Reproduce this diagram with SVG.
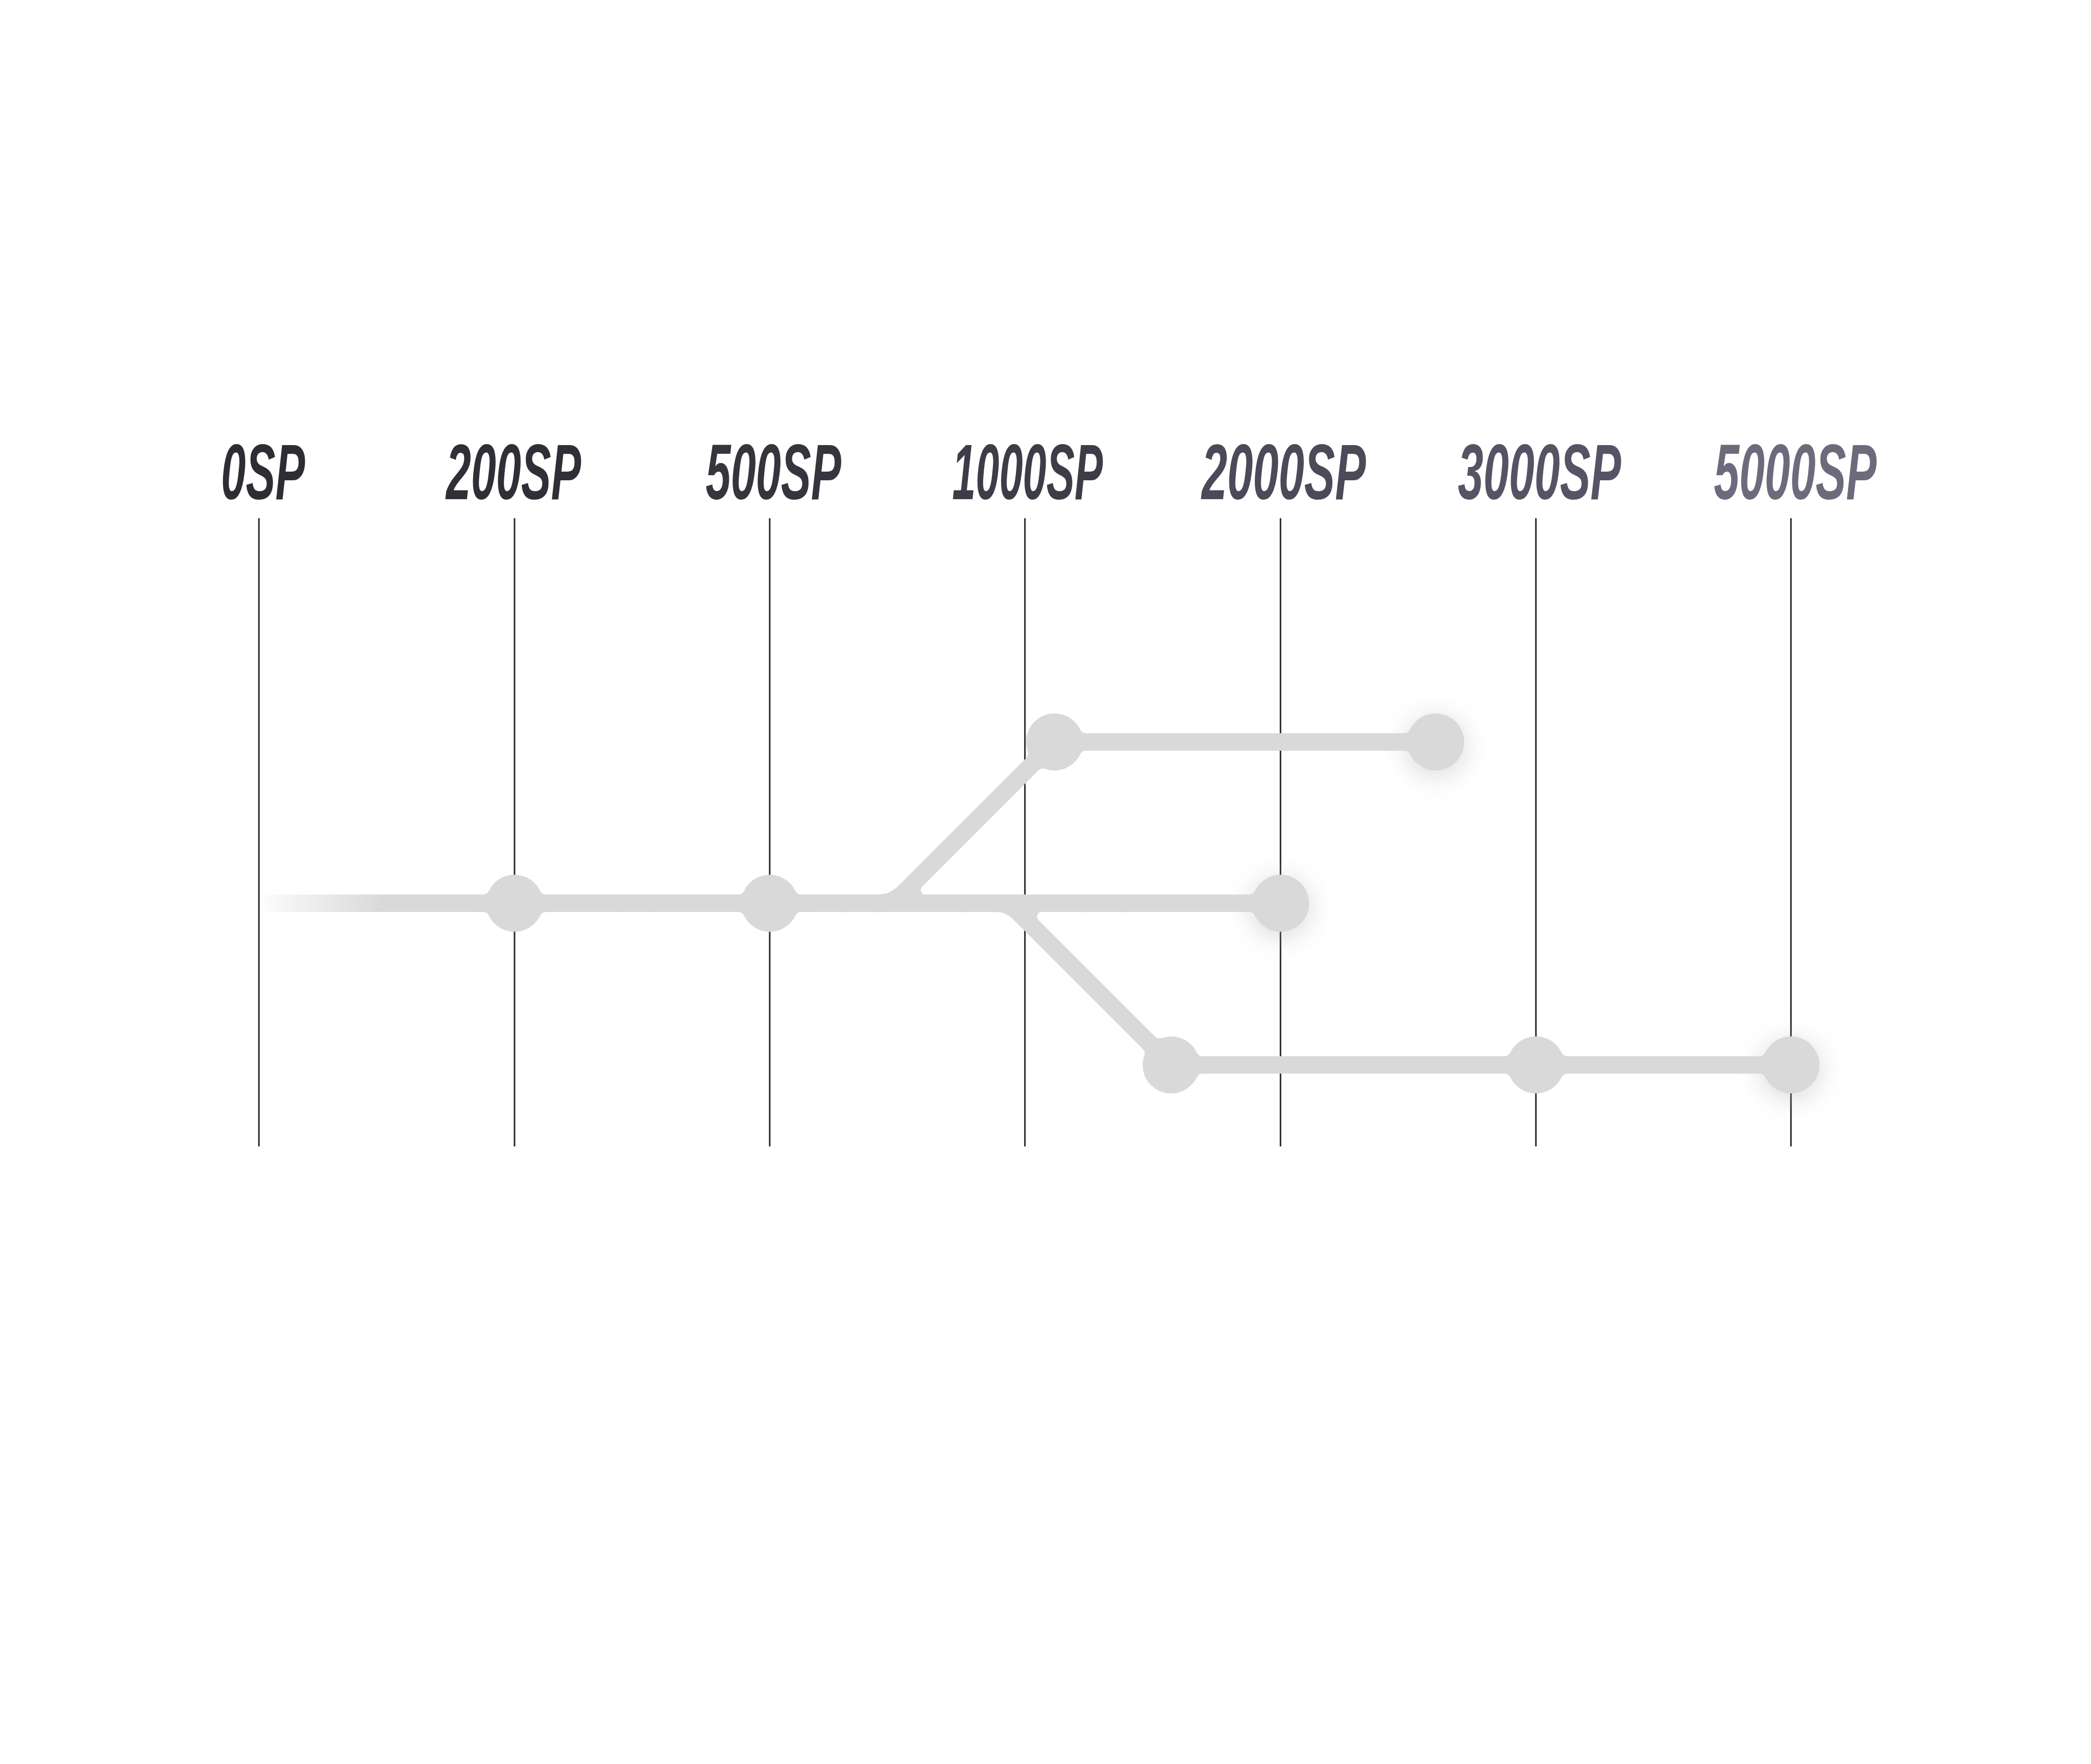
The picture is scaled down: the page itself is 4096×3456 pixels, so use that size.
<svg xmlns="http://www.w3.org/2000/svg" xmlns:xlink="http://www.w3.org/1999/xlink" width="4096" height="3456" viewBox="0 0 4096 3456">
<style>
.vl{stroke:#2b2a33;stroke-width:4;fill:none}
.trk{stroke:#d9d9d9;stroke-width:44.4;fill:none;stroke-linecap:butt;stroke-linejoin:miter}
.nd{fill:#d9d9d9}
.lbl{font-family:"Liberation Sans","DejaVu Sans Condensed",Arial,sans-serif;font-weight:700;font-style:italic;font-size:200px}
.glow{fill:#a8a8a8;opacity:0.35;filter:url(#blur)}
</style>
<defs>
<filter id="blur" x="-100%" y="-100%" width="300%" height="300%"><feGaussianBlur stdDeviation="30"/></filter>
<linearGradient id="fade" gradientUnits="userSpaceOnUse" x1="675" y1="0" x2="975" y2="0">
<stop offset="0" stop-color="#fbfbfb"/><stop offset="1" stop-color="#d9d9d9"/>
</linearGradient>
<path id="fl" d="M-80.05,-22.2 A16,16 0 0 0 -65.61,-31.31 L0,0 Z M-80.05,22.2 A16,16 0 0 1 -65.61,31.31 L0,0 Z" fill="#d9d9d9"/>
</defs>
<rect x="0" y="0" width="4096" height="3456" fill="#ffffff"/>
<g transform="scale(0.767904)">
<g id="axis-lines">
<line class="vl" x1="660.5" y1="1322" x2="660.5" y2="2925"/>
<line class="vl" x1="1312.5" y1="1322" x2="1312.5" y2="2925"/>
<line class="vl" x1="1963.5" y1="1322" x2="1963.5" y2="2925"/>
<line class="vl" x1="2614.5" y1="1322" x2="2614.5" y2="2925"/>
<line class="vl" x1="3266.5" y1="1322" x2="3266.5" y2="2925"/>
<line class="vl" x1="3918" y1="1322" x2="3918" y2="2925"/>
<line class="vl" x1="4568.6" y1="1322" x2="4568.6" y2="2925"/>
</g>
<g id="labels">
<text class="lbl" transform="translate(564,1273) scale(0.566,1)" fill="#2d2d34">0SP</text>
<text class="lbl" transform="translate(1138,1273) scale(0.573,1)" fill="#2f2f37">200SP</text>
<text class="lbl" transform="translate(1800,1273) scale(0.576,1)" fill="#35353e">500SP</text>
<text class="lbl" transform="translate(2429,1273) scale(0.540,1)" fill="#3d3d47">1000SP</text>
<text class="lbl" transform="translate(3065,1273) scale(0.589,1)" fill="#4b4a58">2000SP</text>
<text class="lbl" transform="translate(3719,1273) scale(0.585,1)" fill="#555465">3000SP</text>
<text class="lbl" transform="translate(4372,1273) scale(0.583,1)" fill="#6c6b7c">5000SP</text>
</g>
<g id="glows">
<circle class="glow" cx="3266.7" cy="2316" r="80"/>
<circle class="glow" cx="3662.3" cy="1905" r="80"/>
<circle class="glow" cx="4568.6" cy="2729" r="80"/>
</g>
<g id="connectors">
<rect x="675" y="2282.3" width="2591" height="44.4" rx="14" fill="url(#fade)"/>
<path class="trk" d="M2238.5,2304.5 A97,97 0 0 0 2307.1,2276.1 L2690,1893 L3662.3,1893"/>
<path class="trk" d="M2541.8,2304.5 A80,80 0 0 1 2598.3,2327.9 L2987.4,2717 L4568.6,2717"/>
<path class="nd" d="M2332.1,2282.3 L2361.1,2282.3 A12,12 0 0 1 2352.6,2261.8 Z"/>
<path class="nd" d="M2628.5,2326.7 L2657.5,2326.7 A12,12 0 0 0 2649,2347.2 Z"/>
</g>
<g id="node-200">
<circle class="nd" cx="1312.5" cy="2304.5" r="72.7"/>
<use xlink:href="#fl" transform="translate(1312.5,2304.5)"/>
<use xlink:href="#fl" transform="translate(1312.5,2304.5) rotate(180)"/>
</g>
<g id="node-500">
<circle class="nd" cx="1963.5" cy="2304.5" r="72.7"/>
<use xlink:href="#fl" transform="translate(1963.5,2304.5)"/>
<use xlink:href="#fl" transform="translate(1963.5,2304.5) rotate(180)"/>
</g>
<g id="node-2000-end">
<circle class="nd" cx="3266.7" cy="2304.5" r="72.7"/>
<use xlink:href="#fl" transform="translate(3266.7,2304.5)"/>
</g>
<g id="node-upper-start">
<circle class="nd" cx="2690" cy="1893" r="72.7"/>
<use xlink:href="#fl" transform="translate(2690,1893) rotate(-45)"/>
<use xlink:href="#fl" transform="translate(2690,1893) rotate(180)"/>
</g>
<g id="node-upper-end">
<circle class="nd" cx="3662.3" cy="1893" r="72.7"/>
<use xlink:href="#fl" transform="translate(3662.3,1893)"/>
</g>
<g id="node-lower-start">
<circle class="nd" cx="2987.4" cy="2717" r="72.7"/>
<use xlink:href="#fl" transform="translate(2987.4,2717) rotate(45)"/>
<use xlink:href="#fl" transform="translate(2987.4,2717) rotate(180)"/>
</g>
<g id="node-3000">
<circle class="nd" cx="3918" cy="2717" r="72.7"/>
<use xlink:href="#fl" transform="translate(3918,2717)"/>
<use xlink:href="#fl" transform="translate(3918,2717) rotate(180)"/>
</g>
<g id="node-5000-end">
<circle class="nd" cx="4568.6" cy="2717" r="72.7"/>
<use xlink:href="#fl" transform="translate(4568.6,2717)"/>
</g>
</g>
</svg>
